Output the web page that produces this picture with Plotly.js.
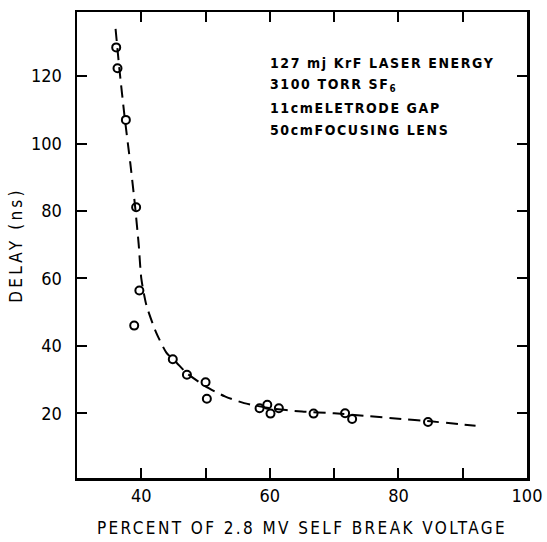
<!DOCTYPE html>
<html>
<head>
<meta charset="utf-8">
<script src="https://cdn.plot.ly/plotly-3.0.1.min.js"></script>
<style>
html,body{margin:0;padding:0;background:#fff;}
#chart{width:547px;height:542px;}
.annotation-text{letter-spacing:1.6px;}
.xtitle{letter-spacing:2.4px;}
.ytitle{letter-spacing:3.2px;}
</style>
</head>
<body>
<div id="chart"></div>
<script>
// Measured points
const pointX = [36.1, 36.3, 37.6, 39.2, 39.7, 38.9, 44.9, 47.1, 50.0, 50.2, 58.4, 59.6, 60.1, 61.4, 66.8, 71.7, 72.8, 84.6];
const pointY = [128.5, 122.3, 107.0, 81.1, 56.4, 46.0, 36.0, 31.4, 29.2, 24.3, 21.5, 22.5, 19.9, 21.5, 19.9, 20.0, 18.3, 17.4];
// Dashed fit curve
const curveX = [36.0, 36.6, 37.4, 38.3, 39.0, 39.6, 40.0, 40.8, 42.3, 43.9, 45.5, 47.0, 50.0, 53.0, 56.0, 60.0, 65.0, 70.0, 75.0, 80.0, 85.0, 92.0];
const curveY = [134, 122, 108, 94, 82, 70, 60, 52, 44, 38, 35, 32, 28, 25, 23, 21.5, 20.5, 20, 19.2, 18.4, 17.6, 16.3];
const xTickVals = [40, 60, 80, 100];
const xTickText = ['40', '60', '80', '100'];
const xMinorVals = [50, 70, 90];
const yTickVals = [20, 40, 60, 80, 100, 120];
const yTickText = ['20', '40', '60', '80', '100', '120'];
const noteLines = ['127 mj KrF LASER ENERGY', '3100 TORR SF<sub>6</sub>', '11cmELETRODE GAP', '50cmFOCUSING LENS'];
const notePos = [0.891, 0.843, 0.794, 0.747];

const font = 'DejaVu Sans Condensed, Liberation Sans Narrow, sans-serif';

const traces = [
  {x: curveX, y: curveY, mode: 'lines', line: {color: '#000', width: 2, dash: '12px,7px', shape: 'spline', smoothing: 0.6}, hoverinfo: 'skip'},
  {x: pointX, y: pointY, mode: 'markers', marker: {symbol: 'circle-open', size: 8, color: '#000', line: {width: 2, color: '#000'}}}
];

const layout = {
  width: 547, height: 542,
  margin: {l: 77, r: 20, t: 12, b: 64},
  paper_bgcolor: '#fff', plot_bgcolor: '#fff',
  showlegend: false,
  font: {family: font, color: '#000', size: 18},
  xaxis: {
    range: [30, 100], tickvals: xTickVals, ticktext: xTickText,
    ticks: 'inside', ticklen: 10, tickwidth: 2, tickcolor: '#000',
    minor: {tickvals: xMinorVals, ticks: 'inside', ticklen: 10, tickwidth: 2, tickcolor: '#000', showgrid: false},
    showline: true, linewidth: 2.5, linecolor: '#000', mirror: 'ticks',
    showgrid: false, zeroline: false,
    tickfont: {family: font, size: 18, color: '#000'},
    title: {text: 'PERCENT OF 2.8 MV SELF BREAK VOLTAGE', font: {family: font, size: 17, color: '#000'}, standoff: 17}
  },
  yaxis: {
    range: [0.8, 139], tickvals: yTickVals, ticktext: yTickText,
    ticks: 'inside', ticklen: 10, tickwidth: 2, tickcolor: '#000',
    showline: true, linewidth: 2.5, linecolor: '#000', mirror: 'ticks',
    showgrid: false, zeroline: false,
    tickfont: {family: font, size: 18, color: '#000'},
    ticklabelstandoff: 9,
    title: {text: 'DELAY (ns)', font: {family: font, size: 17, color: '#000'}, standoff: 4}
  },
  annotations: noteLines.map((t, i) => ({
    text: t, xref: 'paper', yref: 'paper', x: 0.424, y: notePos[i],
    xanchor: 'left', yanchor: 'middle', showarrow: false,
    font: {family: font, size: 14, color: '#000', weight: 'bold'}
  }))
};

Plotly.newPlot('chart', traces, layout, {displayModeBar: false, staticPlot: true});
</script>
</body>
</html>
